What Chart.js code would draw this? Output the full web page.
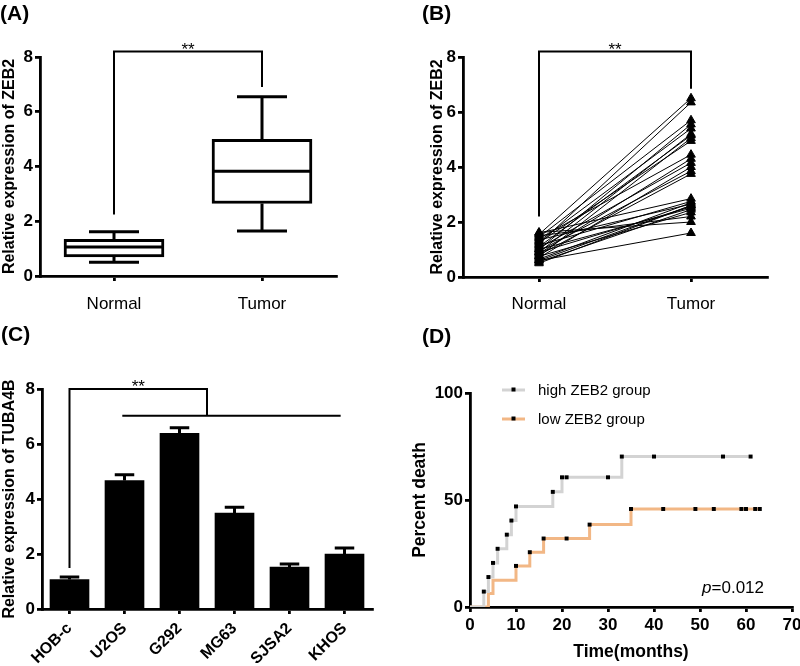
<!DOCTYPE html>
<html>
<head>
<meta charset="utf-8">
<script src="https://cdn.jsdelivr.net/npm/chart.js@4.4.0/dist/chart.umd.min.js"></script>
<style>
  body { margin: 0; background: #fff; width: 800px; height: 666px; position: relative; overflow: hidden; font-family: 'Liberation Sans', Arial, sans-serif; }
  .panel { position: absolute; }
  .tag { position: absolute; font-weight: bold; font-size: 21px; line-height: 1; color: #000; }
</style>
</head>
<body>
<div class="panel" style="left:0;top:0"><canvas id="chartA" width="400" height="320"></canvas></div>
<div class="panel" style="left:400px;top:0"><canvas id="chartB" width="400" height="320"></canvas></div>
<div class="panel" style="left:0;top:320px"><canvas id="chartC" width="400" height="346"></canvas></div>
<div class="panel" style="left:400px;top:320px"><canvas id="chartD" width="400" height="346"></canvas></div>
<div class="tag" style="left:0;top:2px">(A)</div>
<div class="tag" style="left:422px;top:2px">(B)</div>
<div class="tag" style="left:1px;top:323px">(C)</div>
<div class="tag" style="left:422px;top:325px">(D)</div>
<script>
// (A) box plot
const boxLabels = ['Normal', 'Tumor'];
const boxMin = [0.5, 1.64];
const boxQ1 = [0.70, 2.65];
const boxMedian = [1.06, 3.83];
const boxQ3 = [1.34, 4.99];
const boxMax = [1.62, 6.55];

// (B) paired samples
const pairLabels = ['Normal', 'Tumor'];
const pairedNormal = [1.55, 1.2, 1.45, 1.0, 1.3, 0.9, 1.1, 0.75, 1.25, 1.4, 0.85, 1.05, 0.7, 0.95, 0.8,
  1.6, 1.15, 0.65, 1.35, 0.6, 0.9, 1.0, 0.55, 1.5, 1.62, 0.75, 0.5, 0.6];
const pairedTumor = [6.5, 6.35, 5.7, 5.55, 5.4, 5.2, 5.15, 5.05, 4.95, 4.45, 4.3, 4.15, 4.0, 3.85, 3.75,
  2.85, 2.75, 2.7, 2.65, 2.6, 2.55, 2.5, 2.45, 2.2, 2.0, 2.35, 2.6, 1.6];

// (C) cell lines
const cellLines = ['HOB-c', 'U2OS', 'G292', 'MG63', 'SJSA2', 'KHOS'];
const cellMeans = [1.07, 4.67, 6.39, 3.49, 1.52, 2.00];
const cellErr = [0.09, 0.21, 0.20, 0.21, 0.12, 0.22];

// (D) survival curves
const highTimes = [0, 3, 4, 5, 6, 8, 9, 10, 18, 20, 21, 30, 33, 40, 55, 61];
const highDeath = [0, 7.2, 14, 20.6, 27.2, 33.8, 40.4, 47, 53.8, 60.6, 60.6, 60.6, 70.3, 70.3, 70.3, 70.3];
const highSymbol = [0, 1, 1, 1, 1, 1, 1, 1, 1, 1, 1, 1, 1, 1, 1, 1];
const lowTimes = [0, 4, 5, 10, 13, 16, 21, 26, 35, 42, 49, 53, 59, 60, 62, 63];
const lowDeath = [0, 6.3, 12.5, 19.2, 25.6, 32, 32, 38.5, 45.8, 45.8, 45.8, 45.8, 45.8, 45.8, 45.8, 45.8];
const lowSymbol = [0, 0, 0, 1, 1, 1, 1, 1, 1, 1, 1, 1, 1, 1, 1, 1];

const FONT = "'Liberation Sans', Arial, sans-serif";
Chart.defaults.font.family = FONT;
Chart.defaults.color = '#000';

const axisGrid = { drawOnChartArea: false, drawTicks: true, tickLength: 5, color: '#000', lineWidth: 2.8, offset: false };
const axisBorder = { display: true, color: '#000', width: 2.8 };
const noPlugins = { legend: { display: false }, tooltip: { enabled: false } };

// significance bracket between two categories
const bracketPlugin = {
    id: 'sigBracket',
    afterDraw(chart, args, opts) {
        const { ctx, scales: { x, y } } = chart;
        const x1 = x.getPixelForValue(opts.from);
        const x2 = x.getPixelForValue(opts.to);
        const yt = y.getPixelForValue(opts.top);
        ctx.save();
        ctx.strokeStyle = '#000';
        ctx.lineWidth = 2;
        ctx.beginPath();
        ctx.moveTo(x1, y.getPixelForValue(opts.leftEnd));
        ctx.lineTo(x1, yt);
        ctx.lineTo(x2, yt);
        ctx.lineTo(x2, y.getPixelForValue(opts.rightEnd));
        ctx.stroke();
        ctx.fillStyle = '#000';
        ctx.font = '17px ' + FONT;
        ctx.textAlign = 'center';
        ctx.textBaseline = 'alphabetic';
        ctx.fillText('**', (x1 + x2) / 2, yt + 3);
        ctx.restore();
    }
};

// median line + whiskers for the box plot
const whiskerPlugin = {
    id: 'whiskers',
    afterDatasetsDraw(chart) {
        const { ctx, scales: { y } } = chart;
        const bars = chart.getDatasetMeta(0).data;
        ctx.save();
        ctx.strokeStyle = '#000';
        ctx.lineWidth = 3;
        bars.forEach((bar, i) => {
            const half = bar.width / 2;
            const cap = bar.width / 4;
            const yMed = y.getPixelForValue(boxMedian[i]);
            ctx.beginPath();
            ctx.moveTo(bar.x - half, yMed);
            ctx.lineTo(bar.x + half, yMed);
            ctx.moveTo(bar.x, y.getPixelForValue(boxQ3[i]));
            ctx.lineTo(bar.x, y.getPixelForValue(boxMax[i]));
            ctx.moveTo(bar.x - cap, y.getPixelForValue(boxMax[i]));
            ctx.lineTo(bar.x + cap, y.getPixelForValue(boxMax[i]));
            ctx.moveTo(bar.x, y.getPixelForValue(boxQ1[i]));
            ctx.lineTo(bar.x, y.getPixelForValue(boxMin[i]));
            ctx.moveTo(bar.x - cap, y.getPixelForValue(boxMin[i]));
            ctx.lineTo(bar.x + cap, y.getPixelForValue(boxMin[i]));
            ctx.stroke();
        });
        ctx.restore();
    }
};

new Chart(document.getElementById('chartA'), {
    type: 'bar',
    data: {
        labels: boxLabels,
        datasets: [{
            data: boxLabels.map((l, i) => [boxQ1[i], boxQ3[i]]),
            backgroundColor: '#fff',
            borderColor: '#000',
            borderWidth: 3,
            borderSkipped: false,
            barThickness: 100
        }]
    },
    options: {
        responsive: false,
        animation: false,
        layout: { padding: { top: 57, right: 64, left: 0, bottom: 0 } },
        plugins: Object.assign({ sigBracket: { from: 0, to: 1, top: 8.2, leftEnd: 2.25, rightEnd: 6.9 } }, noPlugins),
        scales: {
            x: {
                grid: axisGrid, border: axisBorder,
                ticks: { font: { size: 17 }, padding: 13 },
                afterFit: s => { s.height = 44; s.paddingLeft = 0; s.paddingRight = 0; }
            },
            y: {
                min: 0, max: 8,
                grid: axisGrid, border: axisBorder,
                ticks: { stepSize: 2, padding: 2, font: { size: 17, weight: 'bold' } },
                title: { display: true, text: 'Relative expression of ZEB2', padding: 0, font: { size: 16, weight: 'bold' } },
                afterFit: s => { s.width = 40; }
            }
        }
    },
    plugins: [whiskerPlugin, bracketPlugin]
});

// (B)
new Chart(document.getElementById('chartB'), {
    type: 'line',
    data: {
        labels: pairLabels,
        datasets: pairedNormal.map((n, i) => ({
            data: [n, pairedTumor[i]],
            borderColor: '#000',
            borderWidth: 1,
            pointStyle: 'triangle',
            pointRadius: 5,
            pointBackgroundColor: '#000',
            pointBorderColor: '#000',
            pointBorderWidth: 1
        }))
    },
    options: {
        responsive: false,
        animation: false,
        layout: { padding: { top: 57, right: 33, left: 28, bottom: 0 } },
        plugins: Object.assign({ sigBracket: { from: 0, to: 1, top: 8.2, leftEnd: 2.2, rightEnd: 6.85 } }, noPlugins),
        scales: {
            x: {
                offset: true,
                grid: axisGrid, border: axisBorder,
                ticks: { font: { size: 17 }, padding: 12 },
                afterFit: s => { s.height = 43; s.paddingLeft = 0; s.paddingRight = 0; }
            },
            y: {
                min: 0, max: 8,
                grid: axisGrid, border: axisBorder,
                ticks: { stepSize: 2, padding: 2, font: { size: 17, weight: 'bold' } },
                title: { display: true, text: 'Relative expression of ZEB2', padding: 0, font: { size: 16, weight: 'bold' } },
                afterFit: s => { s.width = 35; }
            }
        }
    },
    plugins: [bracketPlugin]
});

// (C) error bars and group bracket
const errorBarPlugin = {
    id: 'errorBars',
    afterDatasetsDraw(chart) {
        const { ctx, scales: { y } } = chart;
        ctx.save();
        ctx.strokeStyle = '#000';
        ctx.lineWidth = 3;
        chart.getDatasetMeta(0).data.forEach((bar, i) => {
            const top = y.getPixelForValue(cellMeans[i] + cellErr[i]);
            const cap = bar.width / 4;
            ctx.beginPath();
            ctx.moveTo(bar.x, y.getPixelForValue(cellMeans[i]));
            ctx.lineTo(bar.x, top);
            ctx.moveTo(bar.x - cap, top);
            ctx.lineTo(bar.x + cap, top);
            ctx.stroke();
        });
        ctx.restore();
    }
};

const groupBracketPlugin = {
    id: 'groupBracket',
    afterDraw(chart) {
        const { ctx, scales: { x, y } } = chart;
        const x0 = x.getPixelForValue(0);
        const xm = x.getPixelForValue(2.5);
        const yt = y.getPixelForValue(8);
        const yg = y.getPixelForValue(7.03);
        ctx.save();
        ctx.strokeStyle = '#000';
        ctx.lineWidth = 2;
        ctx.beginPath();
        ctx.moveTo(x0, y.getPixelForValue(1.49));
        ctx.lineTo(x0, yt);
        ctx.lineTo(xm, yt);
        ctx.lineTo(xm, yg);
        ctx.moveTo(x.getPixelForValue(0.96), yg);
        ctx.lineTo(x.getPixelForValue(4.93), yg);
        ctx.stroke();
        ctx.fillStyle = '#000';
        ctx.font = '17px ' + FONT;
        ctx.textAlign = 'center';
        ctx.fillText('**', (x0 + xm) / 2, yt + 3);
        ctx.restore();
    }
};

new Chart(document.getElementById('chartC'), {
    type: 'bar',
    data: {
        labels: cellLines,
        datasets: [{
            data: cellMeans,
            backgroundColor: '#000',
            borderWidth: 0,
            barThickness: 39
        }]
    },
    options: {
        responsive: false,
        animation: false,
        layout: { padding: { top: 69, right: 28, left: 0, bottom: 0 } },
        plugins: noPlugins,
        scales: {
            x: {
                grid: axisGrid, border: axisBorder,
                ticks: { minRotation: 45, maxRotation: 45, padding: 5, font: { size: 16, weight: 'bold' } },
                afterFit: s => { s.height = 57; s.paddingLeft = 0; s.paddingRight = 0; }
            },
            y: {
                min: 0, max: 8,
                grid: axisGrid, border: axisBorder,
                ticks: { stepSize: 2, padding: 2, font: { size: 17, weight: 'bold' } },
                title: { display: true, text: 'Relative expression of TUBA4B', padding: 0, font: { size: 16, weight: 'bold' } },
                afterFit: s => { s.width = 42; }
            }
        }
    },
    plugins: [errorBarPlugin, groupBracketPlugin]
});

// (D) legend and p value
const survivalNotes = {
    id: 'survivalNotes',
    afterDraw(chart) {
        const ctx = chart.ctx;
        ctx.save();
        chart.data.datasets.forEach((ds, i) => {
            const yy = 70 + i * 29;
            ctx.strokeStyle = ds.borderColor;
            ctx.lineWidth = 3;
            ctx.beginPath();
            ctx.moveTo(102, yy);
            ctx.lineTo(125, yy);
            ctx.stroke();
            ctx.fillStyle = '#000';
            ctx.fillRect(111.5, yy - 2.5, 4, 4);
            ctx.font = '15px ' + FONT;
            ctx.textAlign = 'left';
            ctx.textBaseline = 'middle';
            ctx.fillText(ds.label, 138, yy + 1);
        });
        ctx.textBaseline = 'alphabetic';
        ctx.font = 'italic 17px ' + FONT;
        const pw = ctx.measureText('p').width;
        ctx.font = '17px ' + FONT;
        const vw = ctx.measureText('=0.012').width;
        const x0 = 364 - pw - vw;
        ctx.font = 'italic 17px ' + FONT;
        ctx.fillText('p', x0, 273);
        ctx.font = '17px ' + FONT;
        ctx.fillText('=0.012', x0 + pw, 273);
        ctx.restore();
    }
};

new Chart(document.getElementById('chartD'), {
    type: 'line',
    data: {
        datasets: [{
            label: 'high ZEB2 group',
            data: highTimes.map((t, i) => ({ x: t, y: highDeath[i] })),
            stepped: true,
            borderColor: '#d3d3d3',
            borderWidth: 3,
            pointStyle: 'rect',
            pointRadius: c => highSymbol[c.dataIndex] ? 2.8 : 0,
            pointBackgroundColor: '#000',
            pointBorderWidth: 0
        }, {
            label: 'low ZEB2 group',
            data: lowTimes.map((t, i) => ({ x: t, y: lowDeath[i] })),
            stepped: true,
            borderColor: '#f2b785',
            borderWidth: 3,
            pointStyle: 'rect',
            pointRadius: c => lowSymbol[c.dataIndex] ? 2.8 : 0,
            pointBackgroundColor: '#000',
            pointBorderWidth: 0
        }]
    },
    options: {
        responsive: false,
        animation: false,
        layout: { padding: { top: 73, right: 8, left: 10, bottom: 0 } },
        plugins: noPlugins,
        scales: {
            x: {
                type: 'linear', min: 0, max: 70,
                grid: axisGrid, border: axisBorder,
                ticks: { stepSize: 10, padding: 3, font: { size: 17, weight: 'bold' } },
                title: { display: true, text: 'Time(months)', padding: { top: 2, bottom: 3 }, font: { size: 17.5, weight: 'bold' } },
                afterFit: s => { s.height = 59; s.paddingLeft = 0; s.paddingRight = 0; }
            },
            y: {
                min: 0, max: 100,
                grid: axisGrid, border: axisBorder,
                ticks: { stepSize: 50, padding: 2, font: { size: 17, weight: 'bold' } },
                title: { display: true, text: 'Percent death', padding: 0, font: { size: 17.5, weight: 'bold' } },
                afterFit: s => { s.width = 60; }
            }
        }
    },
    plugins: [survivalNotes]
});
</script>
</body>
</html>
